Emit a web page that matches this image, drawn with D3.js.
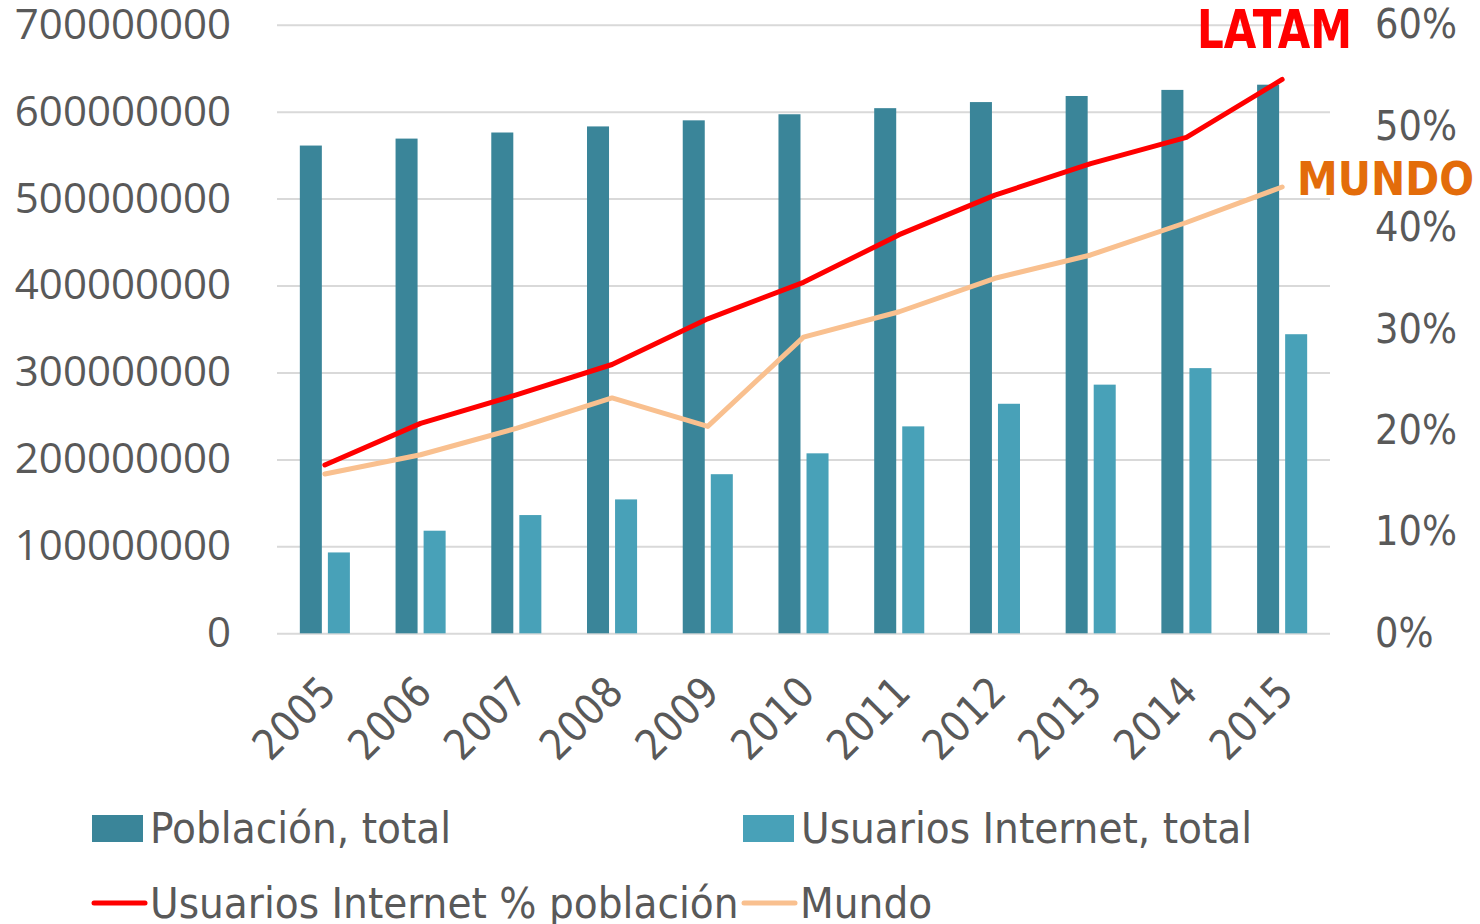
<!DOCTYPE html>
<html>
<head>
<meta charset="utf-8">
<script src="https://cdnjs.cloudflare.com/ajax/libs/d3/7.8.5/d3.min.js"></script>
<style>
  body { margin: 0; background: #fff; }
  .narrow { font-family: "Liberation Sans Narrow", "DejaVu Sans Condensed", "Roboto", sans-serif; }
</style>
</head>
<body>
<div id="chart"></div>
<script>
// data
var years = ["2005","2006","2007","2008","2009","2010","2011","2012","2013","2014","2015"];
var poblacion = [561e6, 569e6, 576e6, 583e6, 590e6, 597e6, 604e6, 611e6, 618e6, 625e6, 631e6];
var usuarios = [93e6, 118e6, 136e6, 154e6, 183e6, 207e6, 238e6, 264e6, 286e6, 305e6, 344e6];
var latamPct = [16.6, 20.7, 23.5, 26.5, 31.0, 34.6, 39.3, 43.2, 46.3, 48.9, 54.6];
var mundoPct = [15.7, 17.6, 20.2, 23.2, 20.4, 29.2, 31.7, 35.0, 37.3, 40.5, 44.0];
var leftTicks = [0, 1e8, 2e8, 3e8, 4e8, 5e8, 6e8, 7e8];
var rightTicks = [0, 0.1, 0.2, 0.3, 0.4, 0.5, 0.6];
var legendLabels = ["Población, total", "Usuarios Internet, total", "Usuarios Internet % población", "Mundo"];

var W = 1480, H = 924;
var plot = {left: 277, right: 1330, top: 24.7, bottom: 633.3};
var textCol = "#595959",
    colPob = "#3A8599",
    colUsr = "#48A1B8",
    colLatam = "#FF0000",
    colMundo = "#F9C08F";

var svg = d3.select("#chart").append("svg")
    .attr("width", W)
    .attr("height", H);

var x = d3.scaleBand().domain(years).range([plot.left, plot.right]);
var yL = d3.scaleLinear().domain([0, 7e8]).range([plot.bottom, plot.top]);
var yR = d3.scaleLinear().domain([0, 0.6]).range([plot.bottom, plot.top]);

// gridlines
svg.append("g")
    .attr("transform", "translate(" + plot.left + ",0)")
    .call(d3.axisLeft(yL).tickValues(leftTicks).tickSize(-(plot.right - plot.left)).tickFormat(""))
    .call(function(g){ g.select(".domain").remove(); })
    .selectAll("line")
    .attr("stroke", "#D9D9D9")
    .attr("stroke-width", 2);

// left axis labels
var gl = svg.append("g")
    .attr("transform", "translate(231,0)")
    .call(d3.axisLeft(yL).tickValues(leftTicks).tickSize(0).tickPadding(0).tickFormat(d3.format("d")));
gl.select(".domain").remove();
gl.selectAll("text")
    .attr("fill", textCol)
    .style("font-family", "'Open Sans', sans-serif")
    .style("font-size", "42px");

// right axis labels
var gr = svg.append("g")
    .attr("transform", "translate(1375,0)")
    .call(d3.axisRight(yR).tickValues(rightTicks).tickSize(0).tickPadding(0).tickFormat(d3.format(".0%")));
gr.select(".domain").remove();
gr.selectAll("text")
    .attr("class", "narrow")
    .attr("fill", textCol)
    .style("font-size", "41px");

var bw = x.bandwidth() * 0.23, gap = x.bandwidth() * 0.063;
function cx(d){ return x(d) + x.bandwidth() / 2; }

svg.append("g").selectAll("rect")
    .data(years)
    .join("rect")
    .attr("x", function(d){ return cx(d) - gap / 2 - bw; })
    .attr("y", function(d, i){ return yL(poblacion[i]); })
    .attr("width", bw)
    .attr("height", function(d, i){ return yL(0) - yL(poblacion[i]); })
    .attr("fill", colPob);

svg.append("g").selectAll("rect")
    .data(years)
    .join("rect")
    .attr("x", function(d){ return cx(d) + gap / 2; })
    .attr("y", function(d, i){ return yL(usuarios[i]); })
    .attr("width", bw)
    .attr("height", function(d, i){ return yL(0) - yL(usuarios[i]); })
    .attr("fill", colUsr);

var line = d3.line()
    .x(function(d, i){ return cx(years[i]); })
    .y(function(d){ return yR(d / 100); });

svg.append("path")
    .datum(mundoPct)
    .attr("d", line)
    .attr("fill", "none")
    .attr("stroke", colMundo)
    .attr("stroke-width", 5)
    .attr("stroke-linejoin", "round")
    .attr("stroke-linecap", "round");

svg.append("path")
    .datum(latamPct)
    .attr("d", line)
    .attr("fill", "none")
    .attr("stroke", colLatam)
    .attr("stroke-width", 5)
    .attr("stroke-linejoin", "round")
    .attr("stroke-linecap", "round");

// x axis labels, rotated
svg.append("g").selectAll("text")
    .data(years)
    .join("text")
    .attr("class", "narrow")
    .attr("transform", function(d){ return "translate(" + (cx(d) + 3) + ",684) rotate(-45)"; })
    .attr("text-anchor", "end")
    .attr("dy", "0.35em")
    .attr("fill", textCol)
    .style("font-size", "42px")
    .text(function(d){ return d; });

// series annotations
svg.append("text")
    .attr("class", "narrow")
    .attr("x", 1197).attr("y", 48)
    .attr("textLength", 155)
    .attr("lengthAdjust", "spacingAndGlyphs")
    .attr("fill", colLatam)
    .style("font-size", "54px")
    .style("font-weight", "bold")
    .text("LATAM");

svg.append("text")
    .attr("class", "narrow")
    .attr("x", 1297).attr("y", 195)
    .attr("textLength", 177)
    .attr("lengthAdjust", "spacingAndGlyphs")
    .attr("fill", "#E36C0A")
    .style("font-size", "47px")
    .style("font-weight", "bold")
    .text("MUNDO");

// legend
var legend = [
  {label: legendLabels[0], kind: "rect", color: colPob, x: 92, y: 828},
  {label: legendLabels[1], kind: "rect", color: colUsr, x: 743, y: 828},
  {label: legendLabels[2], kind: "line", color: colLatam, x: 92, y: 903},
  {label: legendLabels[3], kind: "line", color: colMundo, x: 742, y: 903}
];
var lg = svg.append("g").selectAll("g")
    .data(legend)
    .join("g")
    .attr("transform", function(d){ return "translate(" + d.x + "," + d.y + ")"; });

lg.filter(function(d){ return d.kind === "rect"; })
    .append("rect")
    .attr("x", 0).attr("y", -13)
    .attr("width", 51).attr("height", 27)
    .attr("fill", function(d){ return d.color; });

lg.filter(function(d){ return d.kind === "line"; })
    .append("line")
    .attr("x1", 2).attr("x2", 53)
    .attr("stroke", function(d){ return d.color; })
    .attr("stroke-width", 5)
    .attr("stroke-linecap", "round");

lg.append("text")
    .attr("class", "narrow")
    .attr("x", 58)
    .attr("dy", "0.35em")
    .attr("fill", textCol)
    .style("font-size", "43.5px")
    .text(function(d){ return d.label; });
</script>
</body>
</html>
